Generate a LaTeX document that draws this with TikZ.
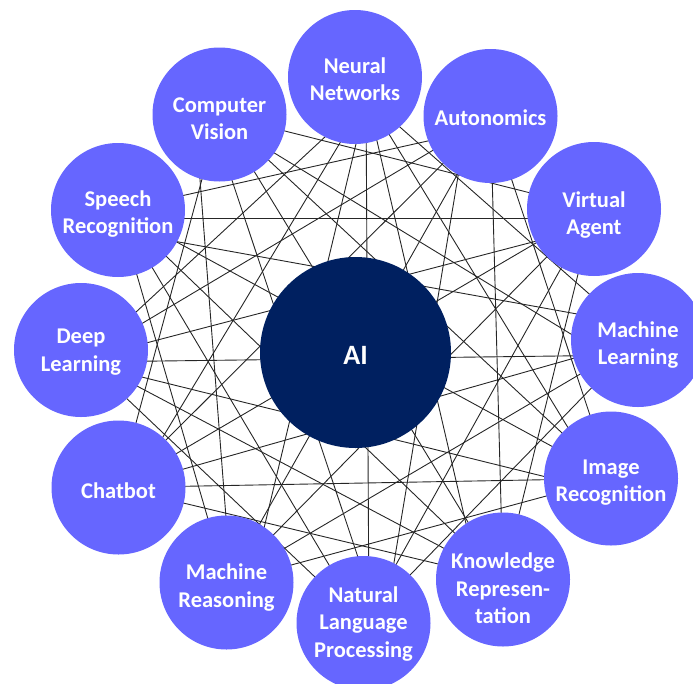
\documentclass[tikz,border=0pt]{standalone}
\usepackage{fontspec}
\setmainfont{Carlito}
\usetikzlibrary{backgrounds}
\definecolor{topicblue}{RGB}{102,102,255}
\definecolor{corenavy}{RGB}{0,32,96}
\newcommand\lnk[4]{\draw[link] ([shift={(#2)}]#1.center) -- ([shift={(#4)}]#3.center);}
\newcommand\tlabel[3]{\node[lbl] (#1t) at ([shift={(0,#2)}]#1.center) {#3};}
\begin{document}
\begin{tikzpicture}[x=1pt,y=-1pt,
  topic/.style={circle, fill=topicblue, minimum size=134pt, inner sep=0pt},
  lbl/.style={inner sep=0pt, text=white, font=\fontsize{22.5}{27.5}\selectfont\bfseries, align=center},
  hub/.style={circle, fill=corenavy, minimum size=191pt, inner sep=0pt},
  hubtext/.style={inner sep=0pt, text=white, font=\fontsize{28}{32}\selectfont\bfseries},
  link/.style={draw=black!85, line width=0.9pt}]
\useasboundingbox (0,0) rectangle (693,683);
\clip (0,0) rectangle (693,683);
\node[hub] (AI) at (355.5,352.5) {};
\node[hubtext] (AIt) at ([shift={(0,3)}]AI.center) {AI};
\node[topic] (ML)  at (638,340)     {};
\node[topic] (VA)  at (594,209)     {};
\node[topic] (AU)  at (490.5,116)   {};
\node[topic] (NN)  at (355,77)      {};
\node[topic] (CV)  at (219.5,114.5) {};
\node[topic] (SR)  at (118,210)     {};
\node[topic] (DL)  at (81,350)      {};
\node[topic] (CB)  at (118.5,487.5) {};
\node[topic] (MR)  at (226.5,582.5) {};
\node[topic] (NLP) at (363.5,623)   {};
\node[topic] (KR)  at (503,579.5)   {};
\node[topic] (IR)  at (611,478.5)   {};
\tlabel{ML}{5}{Machine\\Learning}
\tlabel{VA}{6}{Virtual\\Agent}
\tlabel{AU}{2}{Autonomics}
\tlabel{NN}{2}{Neural\\Networks}
\tlabel{CV}{4}{Computer\\Vision}
\tlabel{SR}{4}{Speech\\Recognition}
\tlabel{DL}{2}{Deep\\Learning}
\tlabel{CB}{3}{Chatbot}
\tlabel{MR}{5}{Machine\\Reasoning}
\tlabel{NLP}{1}{Natural\\Language\\Processing}
\tlabel{KR}{9}{Knowledge\\Represen-\\tation}
\tlabel{IR}{4}{Image\\Recognition}
\begin{scope}[on background layer]
% offset 3
\lnk{ML}{0,-3}{NN}{12,21}
\lnk{VA}{0,0}{CV}{0,0}
\lnk{AU}{0,11}{SR}{0,0}
\lnk{NN}{12,21}{DL}{0,13}
\lnk{CV}{0,0}{CB}{0,0}
\lnk{SR}{0,0}{MR}{0,0}
\lnk{DL}{3,8}{NLP}{0,0}
\lnk{CB}{0,0}{KR}{0,0}
\lnk{MR}{0,0}{IR}{0,0}
\lnk{NLP}{0,0}{ML}{0,0}
\lnk{KR}{0,0}{VA}{0,0}
\lnk{IR}{0,0}{AU}{0,0}
% offset 4
\lnk{ML}{0,35}{CV}{0,5}
\lnk{VA}{0,9}{SR}{0,8}
\lnk{AU}{0,0}{DL}{3,8}
\lnk{NN}{12,21}{CB}{14,0}
\lnk{CV}{-24.5,0}{MR}{4.5,0}
\lnk{SR}{0,0}{NLP}{0,0}
\lnk{DL}{3,8}{KR}{0,0}
\lnk{CB}{0,0}{IR}{0,0}
\lnk{MR}{0,0}{ML}{0,0}
\lnk{NLP}{0,0}{VA}{0,0}
\lnk{KR}{0,0}{AU}{0,0}
\lnk{IR}{-12,0}{NN}{12,21}
% offset 5
\lnk{ML}{0,-15}{SR}{0,21}
\lnk{VA}{0,17}{DL}{0,10}
\lnk{AU}{0,0}{CB}{0,0}
\lnk{NN}{12,21}{MR}{24.5,0}
\lnk{CV}{-9.5,0}{NLP}{16.5,0}
\lnk{SR}{0,0}{KR}{0,0}
\lnk{DL}{0,12}{IR}{0,14.5}
\lnk{CB}{0,0}{ML}{0,0}
\lnk{MR}{0,0}{VA}{0,0}
\lnk{NLP}{20.5,0}{AU}{-22.5,0}
\lnk{KR}{-24,0}{NN}{12,21}
\lnk{IR}{0,0}{CV}{0,0}
% offset 6
\lnk{ML}{0,15}{DL}{0,12}
\lnk{VA}{0,0}{CB}{0,0}
\lnk{AU}{0,0}{MR}{0,0}
\lnk{NN}{11,21}{NLP}{5.5,0}
\lnk{CV}{0,0}{KR}{0,0}
\lnk{SR}{0,0}{IR}{0,0}
\end{scope}
\end{tikzpicture}
\end{document}
